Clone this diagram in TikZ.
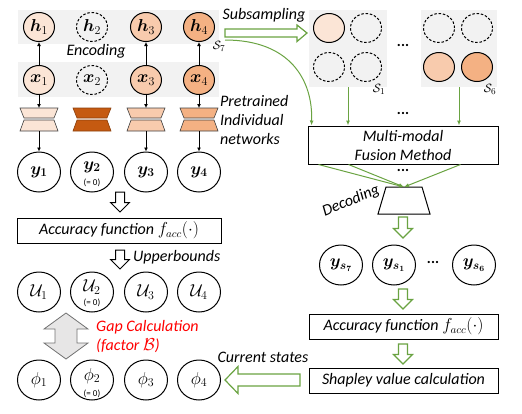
\documentclass[tikz,border=0pt]{standalone}
\usepackage{amsmath}
\usepackage{bm}
\usepackage{fontspec}
\setmainfont{Carlito}
\usetikzlibrary{shapes.geometric,arrows.meta}
\definecolor{bandgray}{HTML}{F2F2F2}
\definecolor{orA}{HTML}{FBE5D6}
\definecolor{orB}{HTML}{F8CBAD}
\definecolor{orC}{HTML}{F4B183}
\definecolor{orD}{HTML}{C55A11}
\definecolor{grn}{HTML}{6AA342}
\definecolor{gapgray}{HTML}{E7E6E6}
\definecolor{gapred}{HTML}{FF0000}
\tikzset{
  sc/.style={ellipse,draw,line width=1pt,minimum width=31pt,minimum height=29pt,inner sep=0pt,font=\fontsize{17}{19}\selectfont},
  dc/.style={sc,dash pattern=on 2.5pt off 1.8pt,fill=bandgray},
  bc/.style={ellipse,draw,line width=1pt,minimum width=43pt,minimum height=40pt,inner sep=0pt,font=\fontsize{17}{19}\selectfont},
  mlab/.style={inner sep=0pt,font=\fontsize{17}{19}\selectfont},
  lab/.style={font=\fontsize{16}{19}\selectfont\itshape,inner sep=0pt},
  boxn/.style={draw,line width=1pt,inner sep=0pt,font=\fontsize{16}{19}\selectfont\itshape,align=center},
  arr/.style={-{Latex[length=4pt,width=4pt]},line width=0.8pt},
  garr/.style={grn,line width=1pt,-{Latex[length=5pt,width=4pt]}},
  netw/.style={draw=black!75,line width=0.6pt,line join=miter},
  hol/.style={draw,line width=1pt,fill=white,line join=miter},
  ghol/.style={draw=grn,line width=1.2pt,fill=white,line join=miter},
  zero/.style={font=\fontsize{9}{10}\selectfont,inner sep=0pt},
  dots/.style={font=\fontsize{15}{16}\selectfont\bfseries,inner sep=0pt},
  slab/.style={inner sep=0pt,font=\fontsize{13}{14}\selectfont},
}
\newcommand{\hdarrow}[4]{\draw[#1] ({#2-4.5},#3) -- ({#2+4.5},#3) -- ({#2+4.5},{#4-9.5}) -- ({#2+9.5},{#4-9.5}) -- (#2,#4) -- ({#2-9.5},{#4-9.5}) -- ({#2-4.5},{#4-9.5}) -- cycle;}
\newcommand{\netpair}[3]{%
  \draw[netw,#2] ({#1-19},108) -- ({#1+19},108) -- ({#1+15},118) -- ({#1-15},118) -- cycle;
  \draw[netw,#2] ({#1-15},120) -- ({#1+15},120) -- ({#1+19},131) -- ({#1-19},131) -- cycle;
  \coordinate (#3a) at (#1,108);
  \coordinate (#3b) at (#1,131);}
\begin{document}
\begin{tikzpicture}[x=1pt,y=-1pt]
\useasboundingbox (0,0) rectangle (522,413);
% bands
\fill[bandgray] (18,10) rectangle (219,44);
\fill[bandgray] (18,62) rectangle (219,97);
% h nodes
\node[sc,fill=orA] (h1) at (39,27) {$\bm{h}_1$};
\node[dc] (h2) at (92,27) {$\bm{h}_2$};
\node[sc,fill=orB] (h3) at (146,27) {$\bm{h}_3$};
\node[sc,fill=orC] (h4) at (199,27) {$\bm{h}_4$};
% x nodes
\node[sc,fill=orA] (x1) at (39,80) {$\bm{x}_1$};
\node[dc] (x2) at (92,80) {$\bm{x}_2$};
\node[sc,fill=orB] (x3) at (146,80) {$\bm{x}_3$};
\node[sc,fill=orC] (x4) at (199,80) {$\bm{x}_4$};
\draw[arr] (x1) -- (h1);
\draw[arr] (x3) -- (h3);
\draw[arr] (x4) -- (h4);
\node[lab] (enc) at (96,51) {Encoding};
% networks
\netpair{39}{fill=orA}{n1}
\netpair{92}{fill=orD,draw=orD!70!black}{n2}
\netpair{146}{fill=orB}{n3}
\netpair{199}{fill=orC}{n4}
\draw[arr] (x1) -- (n1a);
\draw[arr] (x3) -- (n3a);
\draw[arr] (x4) -- (n4a);
\node[lab,anchor=north west,align=left] (pre) at (220,95) {Pretrained\\Individual\\networks};
% y nodes
\node[bc] (y1) at (39,172) {$\bm{y_1}$};
\node[bc] (y2) at (92,172) {};
\node[mlab] (y2t) at (92,167) {$\bm{y_2}$};
\node[zero] (y2z) at (92,182.5) {(= 0)};
\node[bc] (y3) at (146,172) {$\bm{y_3}$};
\node[bc] (y4) at (199,172) {$\bm{y_4}$};
\draw[arr] (n1b) -- (y1);
\draw[arr] (n3b) -- (y3);
\draw[arr] (n4b) -- (y4);
% accuracy left
\hdarrow{hol}{120}{192}{212}
\node[boxn,minimum width=204pt,minimum height=25pt] (accL) at (119,230.5) {Accuracy function $f_{acc}(\cdot)$};
\hdarrow{hol}{120}{250}{269}
\node[lab,anchor=west] (ub) at (133,257) {Upperbounds};
% U nodes
\node[bc] (u1) at (39,292) {$\mathcal{U}_1$};
\node[bc] (u2) at (92,292) {};
\node[mlab] (u2t) at (92,287) {$\mathcal{U}_2$};
\node[zero] (u2z) at (92,303) {(= 0)};
\node[bc] (u3) at (146,292) {$\mathcal{U}_3$};
\node[bc] (u4) at (199,292) {$\mathcal{U}_4$};
% gap arrow
\draw[draw=black!55,line width=0.8pt,fill=gapgray,line join=miter] (66,313) -- (88,329) -- (77,329) -- (77,343) -- (88,343) -- (66,359) -- (44,343) -- (55,343) -- (55,329) -- (44,329) -- cycle;
\node[lab,anchor=west,align=left,text=gapred] (gap) at (96,336.5) {Gap Calculation\\(factor $\mathcal{B}$)};
% phi nodes
\node[bc] (p1) at (39,380) {$\phi_1$};
\node[bc] (p2) at (92,380) {};
\node[mlab] (p2t) at (92,376) {$\phi_2$};
\node[zero] (p2z) at (92,393.5) {(= 0)};
\node[bc] (p3) at (146,380) {$\phi_3$};
\node[bc] (p4) at (199,380) {$\phi_4$};
% subsampling
\draw[ghol] (225,29) -- (297,29) -- (297,25) -- (307,33) -- (297,41.5) -- (297,37) -- (225,37) -- cycle;
\node[lab] (sub) at (264,15) {Subsampling};
\node[slab] (s7l) at (219,46) {$\mathcal{S}_7$};
\coordinate (s7) at (225,40);
% subsets
\node[fill=bandgray,minimum width=78pt,minimum height=77pt,inner sep=0pt] (S1box) at (348,48.5) {};
\node[sc,fill=orA] (a1) at (329,28) {};
\node[dc] (a2) at (366,28) {};
\node[dc] (a3) at (329,67) {};
\node[dc] (a4) at (366,67) {};
\node[slab] (s1l) at (379,89) {$\mathcal{S}_1$};
\node[fill=bandgray,minimum width=76pt,minimum height=77pt,inner sep=0pt] (S6box) at (459,48.5) {};
\node[dc] (b1) at (439,28) {};
\node[dc] (b2) at (477,28) {};
\node[sc,fill=orB] (b3) at (439,67) {};
\node[sc,fill=orC] (b4) at (477,67) {};
\node[slab] (s6l) at (490,89) {$\mathcal{S}_6$};
\node[dots] (d1) at (403,45) {...};
% fusion
\node[boxn,minimum width=190pt,minimum height=38pt] (fus) at (403,145) {Multi-modal\\Fusion Method};
\draw[garr] (S1box.south) -- (S1box.south |- fus.north);
\draw[garr] (S6box.south) -- (S6box.south |- fus.north);
\node[dots] (d2) at (403,113) {...};
\draw[garr] (s7) .. controls (290,40) and (313,80) .. ([xshift=4pt]fus.north west);
% decoding
\draw[line width=1pt,fill=white,line join=miter] (386,187) -- (422,187) -- (430,214) -- (378,214) -- cycle;
\coordinate (dec) at (404,187);
\draw[garr] ([xshift=11pt]fus.south west) -- (dec);
\draw[garr] ([xshift=41pt]fus.south west) -- (dec);
\draw[garr] ([xshift=-38pt]fus.south east) -- (dec);
\node[dots] (d3) at (403,170) {...};
\node[lab,rotate=23] (decl) at (351,201) {Decoding};
\hdarrow{ghol}{403}{217}{238}
% ys nodes
\node[bc] (ys7) at (341,265) {$\bm{y_{s_7}}$};
\node[bc] (ys1) at (394,265) {$\bm{y_{s_1}}$};
\node[dots] (d4) at (433,262) {...};
\node[bc] (ys6) at (474,265) {$\bm{y_{s_6}}$};
\hdarrow{ghol}{403}{289}{309}
\node[boxn,minimum width=189pt,minimum height=25pt] (accR) at (403.5,326.5) {Accuracy function $f_{acc}(\cdot)$};
\hdarrow{ghol}{403}{344}{364}
\node[boxn,minimum width=189pt,minimum height=25pt] (shap) at (403.5,380.5) {Shapley value calculation};
% current states
\draw[ghol] (300,374) -- (238,374) -- (238,366.5) -- (225,380) -- (238,393.5) -- (238,386) -- (300,386) -- cycle;
\node[lab] (cur) at (263,357) {Current states};
\end{tikzpicture}
\end{document}
